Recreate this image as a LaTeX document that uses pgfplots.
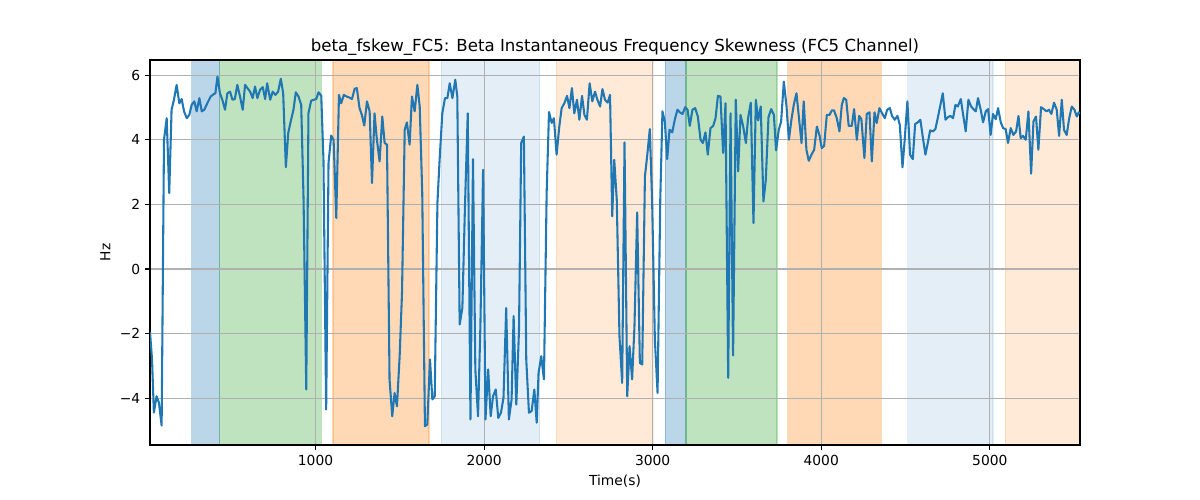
\documentclass[border=0pt]{standalone}
\usepackage{fontspec}
\setmainfont{DejaVu Sans}
\usepackage{pgfplots}
\pgfplotsset{compat=1.18}
\definecolor{tabblue}{HTML}{1F77B4}
\definecolor{tabgreen}{HTML}{2CA02C}
\definecolor{taborange}{HTML}{FF7F0E}
\definecolor{gridgray}{HTML}{B0B0B0}
\pgfplotsset{span/.style={draw=#1, draw opacity=0.3, fill=#1, fill opacity=0.3, line width=1pt, on layer=axis background}}
\pgfplotsset{lspan/.style={draw=#1, draw opacity=0.12, fill=#1, fill opacity=0.12, line width=1pt, on layer=axis background}}
\pgfplotsset{ospan/.style={draw=#1, draw opacity=0.16, fill=#1, fill opacity=0.16, line width=1pt, on layer=axis background}}
\begin{document}
\begin{tikzpicture}
\begin{axis}[
  at={(1.5in,0.55in)}, anchor=south west,
  scale only axis, width=9.3in, height=3.85in,
  xmin=18, xmax=5535, ymin=-5.45, ymax=6.47,
  xtick={1000,2000,3000,4000,5000}, xticklabels={1000,2000,3000,4000,5000},
  ytick={-4,-2,0,2,4,6}, yticklabels={−4,−2,0,2,4,6},
  grid=major, major grid style={color=gridgray, line width=0.8pt},
  tick align=outside, tick pos=left, major tick length=3.5pt,
  tick style={black, line width=0.8pt},
  axis line style={line width=0.8pt},
  every tick label/.append style={font=\fontsize{10}{12}\selectfont},
  title={beta\_fskew\_FC5: Beta Instantaneous Frequency Skewness (FC5 Channel)},
  title style={font=\fontsize{12}{14}\selectfont, at={(0.5,1)}, anchor=base, yshift=0.1pt, inner sep=0pt},
  xlabel={Time(s)}, ylabel={Hz},
  label style={font=\fontsize{10}{12}\selectfont},
  set layers, clip=true,
]
\addplot[span=tabblue] coordinates {(266,-5.45) (432,-5.45) (432,6.47) (266,6.47)} -- cycle;
\addplot[span=tabgreen] coordinates {(432,-5.45) (1034,-5.45) (1034,6.47) (432,6.47)} -- cycle;
\addplot[span=taborange] coordinates {(1103,-5.45) (1674,-5.45) (1674,6.47) (1103,6.47)} -- cycle;
\addplot[lspan=tabblue] coordinates {(1747,-5.45) (2329,-5.45) (2329,6.47) (1747,6.47)} -- cycle;
\addplot[ospan=taborange] coordinates {(2429,-5.45) (3004,-5.45) (3004,6.47) (2429,6.47)} -- cycle;
\addplot[span=tabblue] coordinates {(3076,-5.45) (3198,-5.45) (3198,6.47) (3076,6.47)} -- cycle;
\addplot[span=tabgreen] coordinates {(3198,-5.45) (3738,-5.45) (3738,6.47) (3198,6.47)} -- cycle;
\addplot[span=taborange] coordinates {(3801,-5.45) (4356,-5.45) (4356,6.47) (3801,6.47)} -- cycle;
\addplot[lspan=tabblue] coordinates {(4513,-5.45) (5019,-5.45) (5019,6.47) (4513,6.47)} -- cycle;
\addplot[ospan=taborange] coordinates {(5092,-5.45) (5535,-5.45) (5535,6.47) (5092,6.47)} -- cycle;
\addplot[color=tabblue, line width=1.5pt, line join=round] table {
x y
18 -1.95
30 -2.8
41 -4.45
57 -3.94
71 -4.14
87 -4.85
101 4.0
117 4.67
132 2.35
146 4.93
160 5.24
176 5.7
192 5.13
206 5.26
220 4.88
236 4.67
251 4.77
265 5.08
281 5.19
295 4.88
311 5.29
325 4.88
340 4.93
358 5.13
378 5.34
398 5.42
406 5.44
418 5.96
433 5.44
447 5.24
463 4.93
477 5.44
493 5.49
507 5.24
521 5.26
536 5.7
552 5.34
568 4.93
582 5.7
596 5.6
612 5.49
627 5.29
641 5.65
655 5.29
671 5.55
687 5.63
701 5.26
713 5.75
731 5.24
746 5.49
762 5.39
778 5.49
794 5.89
808 5.44
824 3.15
838 4.21
855 4.62
869 4.93
883 5.47
899 5.34
915 5.08
929 2.14
945 -3.73
958 4.82
974 5.21
990 5.24
1004 5.26
1018 5.47
1034 5.36
1047 3.38
1063 -4.35
1077 3.28
1093 4.13
1107 4.0
1123 1.58
1139 5.39
1152 5.13
1168 5.39
1184 5.34
1200 5.31
1216 5.26
1232 5.58
1245 5.6
1261 4.98
1275 4.77
1289 4.44
1305 5.19
1321 4.88
1335 2.66
1350 4.82
1364 4.0
1380 3.33
1396 4.72
1410 3.9
1424 3.85
1439 -3.42
1455 -4.56
1469 -3.84
1483 -4.25
1499 -2.7
1513 -0.74
1529 4.31
1542 4.54
1558 3.85
1572 5.34
1588 4.88
1604 5.7
1618 5.03
1633 2.35
1649 -4.87
1663 -4.81
1679 -2.8
1693 -4.04
1707 -3.94
1723 2.04
1736 3.38
1752 4.82
1768 5.29
1782 5.29
1796 5.75
1812 5.29
1829 5.86
1841 5.34
1855 -1.72
1871 -1.21
1887 2.04
1903 4.82
1919 -4.66
1934 3.4
1948 -3.11
1964 -4.56
1978 -1.77
1994 3.07
2008 -4.66
2024 -3.11
2039 -4.56
2053 -3.94
2069 -3.73
2084 -4.61
2100 -4.45
2115 -3.99
2131 -1.21
2147 -4.66
2163 -4.04
2175 -1.46
2191 -4.2
2207 -1.88
2220 3.9
2236 4.1
2250 -2.8
2266 -4.45
2282 -4.4
2298 -3.73
2312 -4.76
2323 -3.22
2339 -2.7
2355 -3.42
2371 2.35
2385 4.86
2401 4.52
2414 4.67
2430 3.54
2446 4.41
2460 4.98
2476 5.13
2492 5.36
2506 4.98
2521 5.6
2535 4.82
2551 5.24
2565 4.62
2581 5.36
2595 4.77
2610 4.62
2626 5.75
2642 5.19
2658 5.49
2672 5.24
2688 5.03
2702 5.57
2717 5.24
2733 5.15
2747 5.39
2760 1.63
2772 3.38
2787 2.14
2803 -2.08
2819 -3.53
2833 3.92
2849 -3.94
2863 -2.39
2878 -3.42
2892 -1.77
2908 1.75
2924 -2.91
2938 -2.96
2954 2.87
2967 3.48
2983 4.33
2997 2.04
3013 -2.19
3029 -3.84
3045 2.14
3058 4.88
3072 4.57
3086 3.4
3100 4.31
3116 4.23
3131 4.62
3147 4.93
3161 4.85
3177 4.8
3193 5.01
3207 4.93
3220 4.43
3236 4.93
3252 4.98
3268 4.72
3284 4.0
3298 3.9
3313 4.23
3327 3.54
3343 4.36
3359 4.43
3373 4.67
3387 5.36
3402 5.34
3418 3.59
3432 5.13
3448 -3.37
3462 4.82
3477 -2.68
3493 5.24
3507 3.02
3521 4.77
3537 4.41
3553 3.9
3566 4.67
3582 5.15
3598 1.42
3612 5.24
3626 4.6
3641 5.03
3657 2.09
3671 2.76
3687 4.7
3703 4.95
3719 4.77
3732 3.67
3748 4.31
3762 4.57
3778 5.8
3794 5.03
3808 4.0
3823 4.62
3837 5.08
3853 5.44
3867 4.72
3883 3.9
3896 5.19
3912 3.69
3926 3.35
3942 3.54
3958 3.69
3974 4.41
3989 4.15
4003 3.74
4017 3.81
4033 4.77
4049 4.77
4063 4.91
4076 4.91
4092 4.67
4108 4.26
4122 5.08
4134 5.29
4148 5.24
4163 4.43
4181 4.43
4195 4.95
4211 4.0
4225 4.74
4238 4.64
4256 3.43
4270 4.8
4286 4.85
4300 3.33
4316 4.85
4329 4.52
4345 4.98
4361 4.82
4377 4.67
4391 4.93
4407 4.98
4420 4.74
4436 4.62
4452 4.74
4466 4.46
4482 3.15
4495 4.0
4511 5.19
4527 3.54
4543 3.4
4557 4.49
4573 4.54
4588 4.62
4602 4.1
4618 3.54
4632 3.9
4646 4.29
4662 4.26
4677 4.33
4691 4.67
4707 5.08
4721 5.44
4737 4.62
4752 4.7
4766 4.74
4782 4.67
4796 5.08
4810 5.03
4828 5.26
4841 4.8
4857 4.26
4873 5.24
4889 5.03
4903 4.95
4917 4.88
4930 5.29
4946 4.93
4960 4.54
4976 4.88
4990 4.95
5005 4.15
5019 4.8
5035 4.64
5049 4.98
5065 4.54
5079 4.36
5094 4.33
5108 3.9
5124 4.36
5140 4.15
5156 4.26
5170 4.74
5183 4.05
5197 4.12
5213 4.0
5229 4.88
5245 2.95
5259 4.57
5274 4.72
5288 3.69
5304 5.01
5320 4.95
5336 4.88
5351 4.93
5365 4.8
5381 5.15
5397 4.93
5411 4.12
5427 5.24
5440 4.31
5456 4.15
5470 4.64
5486 5.03
5502 4.93
5516 4.72
5528 4.85
5535 4.8
};
\end{axis}
\pgfresetboundingbox
\useasboundingbox (0,0) rectangle (12in,5in);
\end{tikzpicture}
\end{document}
